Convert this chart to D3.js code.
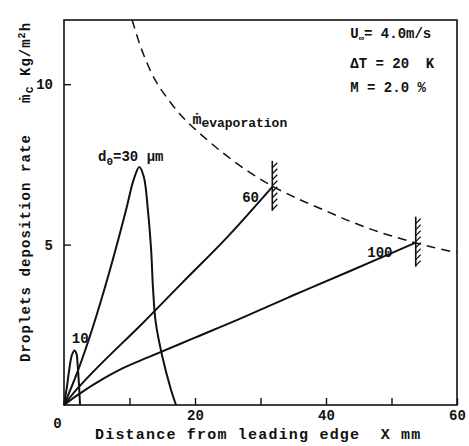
<!DOCTYPE html>
<html>
<head>
<meta charset="utf-8">
<script src="https://cdn.jsdelivr.net/npm/d3@7"></script>
<style>
  body { margin: 0; background: #fff; }
  svg text { font-family: "Liberation Mono", "DejaVu Sans Mono", monospace; fill: #111; font-weight: bold; white-space: pre; }
</style>
</head>
<body>
<svg width="469" height="446"></svg>
<script>
// tick values
const xTicks = [0, 20, 40, 60];
const xMinorTicks = [10, 30, 50];
const yTicks = [5, 10];

// curves: [X mm, mc Kg/m2h]
const evaporation = [[10.4, 12], [12, 11.0], [14, 10.1], [16, 9.5], [18, 9.0], [20, 8.6], [24, 7.9],
  [28, 7.3], [32, 6.8], [36, 6.4], [40, 6.05], [44, 5.7], [48, 5.4], [52, 5.15], [56, 4.93], [60, 4.75]];
const d10 = [[0, 0], [0.4, 0.5], [0.8, 1.1], [1.2, 1.55], [1.6, 1.7], [1.9, 1.6], [2.1, 1.2], [2.3, 0.6], [2.45, 0]];
const d30 = [[0, 0], [2, 1.0], [4.3, 2.36], [7, 4.2], [9.5, 6.1], [10.6, 7.0], [11.5, 7.42], [12.2, 7.1],
  [12.8, 6.1], [13.3, 4.84], [13.6, 3.6], [14.0, 2.58], [15.0, 1.52], [16.3, 0.5], [17.1, 0]];
const d60 = [[0, 0], [2, 0.5], [5, 1.15], [12, 2.55], [18, 3.8], [25, 5.25], [31.8, 6.8]];
const d100 = [[0, 0], [2, 0.3], [5, 0.7], [9, 1.15], [13, 1.5], [20, 2.1], [27, 2.7], [35, 3.42], [43.5, 4.16], [53.7, 5.06]];

const svg = d3.select("svg");
const x = d3.scaleLinear().domain([0, 60]).range([64, 457]);
const y = d3.scaleLinear().domain([0, 12]).range([405, 20]);

// frame
svg.append("rect")
  .attr("x", x(0)).attr("y", y(12))
  .attr("width", x(60) - x(0)).attr("height", y(0) - y(12))
  .attr("fill", "none").attr("stroke", "#111").attr("stroke-width", 1.6);

// x axis
const xAxis = svg.append("g")
  .attr("transform", `translate(0,${y(0)})`)
  .call(d3.axisBottom(x).tickValues(xTicks).tickSizeInner(-7).tickSizeOuter(0).tickPadding(5).tickFormat(d3.format("d")));
xAxis.select(".domain").remove();
xAxis.selectAll("line").attr("stroke", "#111").attr("stroke-width", 1.4);
xAxis.selectAll("text").attr("font-size", 14).style("font-family", "Liberation Mono").attr("fill", "#111");
xAxis.selectAll(".tick").filter(d => d === 0).select("text").attr("dx", -7).attr("dy", "1.3em");
xAxis.selectAll(".tick").filter(d => d === 0).select("line").remove();

svg.append("g")
  .attr("transform", `translate(0,${y(0)})`)
  .call(d3.axisBottom(x).tickValues(xMinorTicks).tickSizeInner(-7).tickSizeOuter(0).tickFormat(""))
  .call(g => g.select(".domain").remove())
  .selectAll("line").attr("stroke", "#111").attr("stroke-width", 1.4);

// y axis
const yAxis = svg.append("g")
  .attr("transform", `translate(${x(0)},0)`)
  .call(d3.axisLeft(y).tickValues(yTicks).tickSizeInner(-7).tickSizeOuter(0).tickPadding(11));
yAxis.select(".domain").remove();
yAxis.selectAll("line").attr("stroke", "#111").attr("stroke-width", 1.4);
yAxis.selectAll("text").attr("font-size", 14).style("font-family", "Liberation Mono").attr("fill", "#111");

// curves
const line = d3.line().x(d => x(d[0])).y(d => y(d[1])).curve(d3.curveCatmullRom.alpha(0.5));

svg.append("path").datum(evaporation).attr("d", line)
  .attr("fill", "none").attr("stroke", "#111").attr("stroke-width", 1.5).attr("stroke-dasharray", "9,6");

[d10, d30, d60, d100].forEach(s => {
  svg.append("path").datum(s).attr("d", line)
    .attr("fill", "none").attr("stroke", "#111").attr("stroke-width", 2);
});

// wall symbols at the end of the 60 and 100 curves
[d60[d60.length - 1], d100[d100.length - 1]].forEach(p => {
  const cx = x(p[0]), cy = y(p[1]);
  const g = svg.append("g");
  g.append("line").attr("x1", cx).attr("x2", cx).attr("y1", cy - 26).attr("y2", cy + 24)
    .attr("stroke", "#111").attr("stroke-width", 1.6);
  d3.range(-24, 24, 6).forEach(o => {
    g.append("line").attr("x1", cx).attr("y1", cy + o + 5).attr("x2", cx + 5).attr("y2", cy + o)
      .attr("stroke", "#111").attr("stroke-width", 1.3);
  });
});

// curve labels
const label = (t, xv, yv) => svg.append("text").attr("x", x(xv)).attr("y", y(yv))
  .attr("font-size", 14).text(t);
label("10", 1.2, 1.93);
label("60", 27.2, 6.33);
label("100", 46.3, 4.61);

const d30Label = svg.append("text").attr("x", x(5.2)).attr("y", y(7.6)).attr("font-size", 14);
d30Label.append("tspan").text("d");
d30Label.append("tspan").attr("dy", 4).attr("font-size", 11).text("0");
d30Label.append("tspan").attr("dy", -4).text("=30 μm");

const evapLabel = svg.append("text").attr("x", x(19.6)).attr("y", y(8.75)).attr("font-size", 15);
evapLabel.append("tspan").text("ṁ");
evapLabel.append("tspan").attr("dy", 3).attr("font-size", 13).text("evaporation");

// conditions
const condX = x(43.7);
const cond1 = svg.append("text").attr("x", condX).attr("y", y(11.44)).attr("font-size", 14);
cond1.append("tspan").text("U");
cond1.append("tspan").attr("dy", 3).attr("font-size", 9).text("∞");
cond1.append("tspan").attr("dy", -3).text("= 4.0m/s");
svg.append("text").attr("x", condX).attr("y", y(10.5)).attr("font-size", 14).text("ΔT = 20  K");
svg.append("text").attr("x", condX).attr("y", y(9.76)).attr("font-size", 14).text("M = 2.0 %");

// axis titles
svg.append("text")
  .attr("x", 95).attr("y", 439)
  .attr("font-size", 15).attr("letter-spacing", 1.2)
  .text("Distance from leading edge  X mm");

svg.append("text")
  .attr("transform", "translate(30,362) rotate(-90)")
  .attr("font-size", 14).attr("letter-spacing", 1.1)
  .text("Droplets deposition rate");

const yUnit = svg.append("text")
  .attr("transform", "translate(30,103) rotate(-90)")
  .attr("font-size", 14).attr("letter-spacing", 1);
yUnit.append("tspan").text("ṁ");
yUnit.append("tspan").attr("dy", 3).attr("font-size", 12).text("c");
yUnit.append("tspan").attr("dy", -3).text(" Kg/m");
yUnit.append("tspan").attr("dy", -5).attr("font-size", 10).text("2");
yUnit.append("tspan").attr("dy", 5).text("h");
</script>
</body>
</html>
